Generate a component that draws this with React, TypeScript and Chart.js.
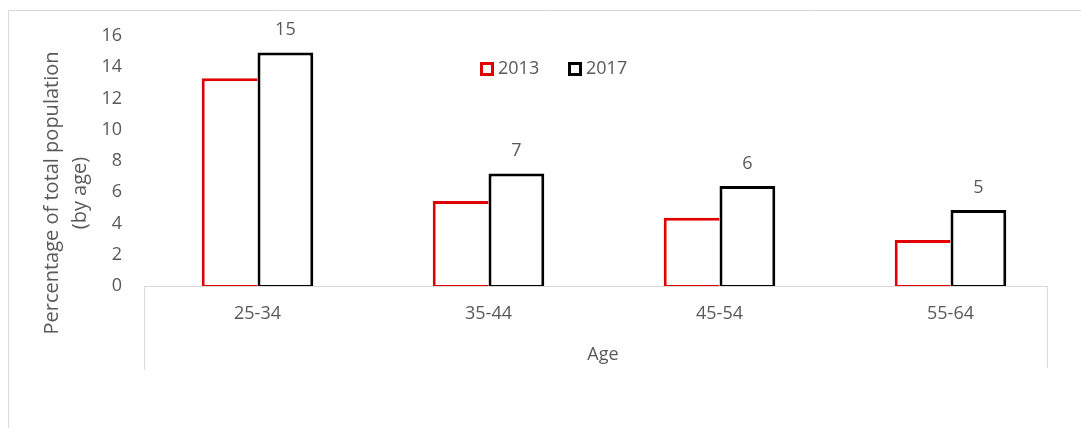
import React, { useEffect, useRef } from 'react';
import { Chart, registerables } from 'chart.js';

Chart.register(...registerables);

const categories = ['25-34', '35-44', '45-54', '55-64'];
const series2013 = [13.3, 5.44, 4.37, 2.94];
const series2017 = [14.95, 7.2, 6.4, 4.86];
const labels2017 = ['15', '7', '6', '5'];
const seriesNames = ['2013', '2017'];
const yMin = 0;
const yMax = 16;
const yStep = 2;
const yTitleLines = ['Percentage of total population', '(by age)'];
const xTitle = 'Age';

const RED = '#e00000';
const BLACK = '#000000';
const TEXT = '#595959';
const LINE = '#d9d9d9';
const FONT = "'Open Sans', sans-serif";

const decorPlugin = {
  id: 'decor',
  beforeDatasetsDraw(chart: any) {
    const { ctx, chartArea } = chart;
    const bottom = chartArea.bottom;
    const boxLeft = 144;
    const boxRight = 1048;
    ctx.save();
    ctx.strokeStyle = LINE;
    ctx.lineWidth = 1;
    ctx.beginPath();
    // outer frame (top and left only visible)
    ctx.moveTo(8.5, 428);
    ctx.lineTo(8.5, 10.5);
    ctx.lineTo(1081, 10.5);
    // x axis line
    ctx.moveTo(boxLeft, bottom + 0.5);
    ctx.lineTo(boxRight, bottom + 0.5);
    // axis box verticals
    ctx.moveTo(boxLeft + 0.5, bottom);
    ctx.lineTo(boxLeft + 0.5, bottom + 84);
    ctx.moveTo(boxRight - 0.5, bottom);
    ctx.lineTo(boxRight - 0.5, bottom + 82);
    ctx.stroke();
    ctx.restore();
  },
  afterDatasetsDraw(chart: any) {
    const { ctx } = chart;
    const meta = chart.getDatasetMeta(1);
    ctx.save();
    ctx.fillStyle = TEXT;
    ctx.font = `18px ${FONT}`;
    ctx.textAlign = 'center';
    ctx.textBaseline = 'middle';
    meta.data.forEach((bar: any, i: number) => {
      ctx.fillText(labels2017[i], bar.x, bar.y - 22.5);
    });
    ctx.restore();
  },
  afterDraw(chart: any) {
    const { ctx } = chart;
    ctx.save();
    // legend
    const colors = [RED, BLACK];
    const boxX = [480, 568];
    ctx.font = `18px ${FONT}`;
    ctx.textBaseline = 'middle';
    ctx.textAlign = 'left';
    seriesNames.forEach((name, i) => {
      ctx.fillStyle = '#ffffff';
      ctx.fillRect(boxX[i], 62, 14, 14);
      ctx.strokeStyle = colors[i];
      ctx.lineWidth = 3;
      ctx.strokeRect(boxX[i] + 1.5, 63.5, 11, 11);
      ctx.fillStyle = TEXT;
      ctx.fillText(name, boxX[i] + 18, 68.5);
    });
    // x title
    ctx.textAlign = 'center';
    ctx.font = `18px ${FONT}`;
    ctx.fillText(xTitle, 603, 355);
    // y title
    ctx.font = `20px ${FONT}`;
    ctx.translate(52, 193);
    ctx.rotate(-Math.PI / 2);
    yTitleLines.forEach((line, i) => {
      ctx.fillText(line, 0, i * 28);
    });
    ctx.restore();
  },
};

export default function App() {
  const canvasRef = useRef<HTMLCanvasElement | null>(null);

  useEffect(() => {
    document.body.style.margin = '0';
    const canvas = canvasRef.current;
    if (!canvas) return;
    const chart = new Chart(canvas, {
      type: 'bar',
      data: {
        labels: categories,
        datasets: [
          {
            label: seriesNames[0],
            data: series2013,
            backgroundColor: '#ffffff',
            borderColor: RED,
            borderWidth: { left: 3, top: 3, right: 0, bottom: 1 },
            borderSkipped: false,
            categoryPercentage: 0.483,
            barPercentage: 1,
          },
          {
            label: seriesNames[1],
            data: series2017,
            backgroundColor: '#ffffff',
            borderColor: BLACK,
            borderWidth: { left: 3, top: 3, right: 3, bottom: 1 },
            borderSkipped: false,
            categoryPercentage: 0.483,
            barPercentage: 1,
          },
        ],
      },
      options: {
        responsive: false,
        animation: false,
        layout: { padding: { left: 0, top: 36, right: 15, bottom: 82 } },
        plugins: {
          legend: { display: false },
          tooltip: { enabled: false },
        },
        scales: {
          x: {
            grid: { display: false, drawTicks: false },
            border: { display: false },
            ticks: { color: TEXT, font: { family: FONT, size: 18 }, padding: 17 },
            afterFit: (s: any) => {
              s.height = 60;
            },
          },
          y: {
            min: yMin,
            max: yMax,
            grid: { display: false, drawTicks: false },
            border: { display: false },
            ticks: {
              stepSize: yStep,
              color: TEXT,
              font: { family: FONT, size: 18 },
              padding: 20,
            },
            afterFit: (s: any) => {
              s.width = 142;
            },
          },
        },
      },
      plugins: [decorPlugin],
    });
    return () => chart.destroy();
  }, []);

  return <canvas ref={canvasRef} width={1081} height={428} />;
}
